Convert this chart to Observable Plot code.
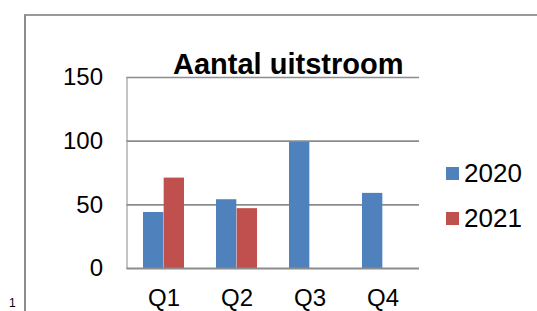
<!DOCTYPE html>
<html>
<head>
<meta charset="utf-8">
<script src="https://cdn.jsdelivr.net/npm/d3@7"></script>
<script src="https://cdn.jsdelivr.net/npm/@observablehq/plot@0.6"></script>
<style>
  html, body { margin: 0; padding: 0; background: #fff; }
  #wrap { position: relative; width: 537px; height: 311px; overflow: hidden; font-family: "Liberation Sans", Arial, sans-serif; }
  #chart svg { display: block; }
  #chart svg text { fill: #000; }
  #frame { position: absolute; left: 24px; top: 14px; width: 600px; height: 400px; border-left: 2px solid #8c8c8c; border-top: 2px solid #9a9a9a; pointer-events: none; }
  #pagenum { position: absolute; left: 9px; top: 297px; font-size: 12px; line-height: 12px; color: #000; }
  .lg-row { position: absolute; left: 446px; height: 30px; display: flex; align-items: center; }
  .lg-sw { width: 13px; height: 13px; margin-right: 5px; }
  .lg-tx { font-size: 26px; line-height: 30px; color: #000; }
</style>
</head>
<body>
<div id="wrap">
  <div id="chart"></div>
  <div id="frame"></div>
  <div id="pagenum">1</div>
</div>
<script>
const title = "Aantal uitstroom";
const quarters = ["Q1", "Q2", "Q3", "Q4"];
const years = ["2020", "2021"];
const values2020 = [44, 54, 99, 59];
const values2021 = [71, 47, null, null];
const yTicks = [0, 50, 100, 150];
const colors = ["#4F81BD", "#C0504D"];

const data = quarters.flatMap((q, i) => [
  {quarter: q, year: years[0], value: values2020[i]},
  {quarter: q, year: years[1], value: values2021[i]}
]).filter(d => d.value != null);

const halfBar = 20.66;
const gridColor = "#8c8c8c";

const chart = Plot.plot({
  width: 537,
  height: 311,
  marginLeft: 126.5,
  marginRight: 118,
  marginTop: 77,
  marginBottom: 43,
  style: {fontFamily: "Liberation Sans, Arial, sans-serif", fontSize: "24px", color: gridColor, background: "transparent", overflow: "visible"},
  x: {domain: quarters, paddingInner: 0.435, paddingOuter: 0.2175, tickSize: 0, tickPadding: 20, label: null},
  y: {domain: [0, 150], ticks: yTicks, tickSize: 0, tickPadding: 24, label: null, line: true},
  color: {domain: years, range: colors},
  marks: [
    Plot.ruleY(yTicks.filter(t => t > 0), {stroke: gridColor, strokeWidth: 1.6}),
    Plot.barY(data.filter(d => d.year === years[0]), {x: "quarter", y: "value", fill: "year", insetRight: halfBar}),
    Plot.barY(data.filter(d => d.year === years[1]), {x: "quarter", y: "value", fill: "year", insetLeft: halfBar}),
    Plot.ruleY([0], {stroke: gridColor, strokeWidth: 2}),
    Plot.text([title], {text: d => d, frameAnchor: "top", dx: 15, dy: -24, fontSize: 29, fontWeight: "bold", fill: "#000"})
  ]
});
document.getElementById("chart").appendChild(chart);

// legend
const wrap = document.getElementById("wrap");
years.forEach((y, i) => {
  const row = document.createElement("div");
  row.className = "lg-row";
  row.style.top = (158 + i * 45) + "px";
  const sw = document.createElement("div");
  sw.className = "lg-sw";
  sw.style.background = colors[i];
  const tx = document.createElement("div");
  tx.className = "lg-tx";
  tx.textContent = y;
  row.appendChild(sw);
  row.appendChild(tx);
  wrap.appendChild(row);
});
</script>
</body>
</html>
